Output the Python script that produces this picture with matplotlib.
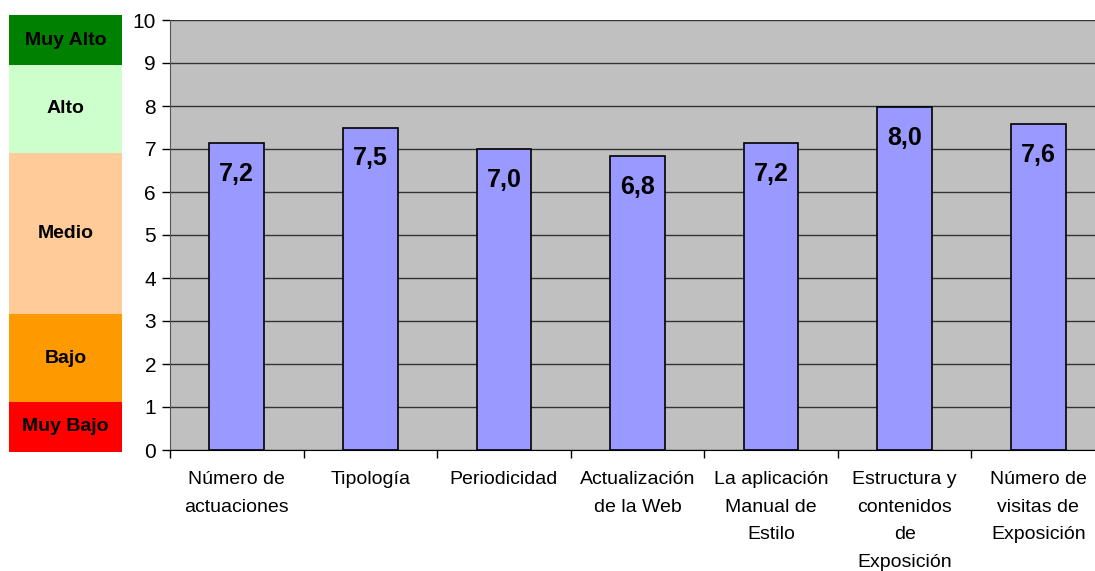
import matplotlib.pyplot as plt
import numpy as np

plt.rcParams['font.family'] = ['Liberation Sans', 'DejaVu Sans']

categories = [
    "Número de\nactuaciones",
    "Tipología",
    "Periodicidad",
    "Actualización\nde la Web",
    "La aplicación\nManual de\nEstilo",
    "Estructura y\ncontenidos\nde\nExposición",
    "Número de\nvisitas de\nExposición",
]
scores = [7.15, 7.5, 7.0, 6.83, 7.15, 7.98, 7.58]

band_labels = ["Muy Bajo", "Bajo", "Medio", "Alto", "Muy Alto"]
band_edges = [0, 1.15, 3.15, 6.85, 8.85, 10]
band_colors = ["#FF0000", "#FF9900", "#FFCC99", "#CCFFCC", "#008000"]

W, H = 1095, 571
fig = plt.figure(figsize=(W / 100, H / 100), dpi=100)

# level bands on the left
bx = fig.add_axes([9 / W, (H - 452) / H, 113 / W, 437 / H])
for lab, lo, hi, col in zip(band_labels, band_edges[:-1], band_edges[1:], band_colors):
    bx.axhspan(lo, hi, color=col, lw=0)
    bx.text(0.5, (lo + hi) / 2, lab, ha="center", va="center",
            fontsize=14, fontweight="bold", color="black")
bx.set_xlim(0, 1)
bx.set_ylim(0, 10)
bx.axis("off")

# main bar chart (plot area runs slightly past the right edge of the image)
ax = fig.add_axes([170 / W, (H - 450) / H, 935 / W, 430 / H])
ax.set_facecolor("#C0C0C0")
x = np.arange(len(categories))
ax.bar(x, scores, width=0.41, color="#9999FF", edgecolor="black", linewidth=1.2, zorder=3)
for xi, v in zip(x, scores):
    ax.text(xi, v - 0.72, f"{v:.1f}".replace(".", ","), ha="center", va="center",
            fontsize=18, fontweight="bold", zorder=4)

ax.set_xlim(-0.5, len(categories) - 0.5)
ax.set_ylim(0, 10)
ax.set_yticks(range(0, 11))
ax.yaxis.grid(True, color="#333333", linewidth=1)
ax.set_axisbelow(True)
ax.tick_params(axis="y", length=6, width=1, labelsize=15, pad=4)

ax.set_xticks(x)
ax.set_xticklabels(categories, fontsize=14, linespacing=1.83, va="top")
ax.set_xticks(np.arange(-0.5, len(categories)), minor=True)
ax.tick_params(axis="x", which="major", length=0, pad=15)
ax.tick_params(axis="x", which="minor", length=6, width=1)

for s in ["top", "right"]:
    ax.spines[s].set_visible(False)
ax.spines["left"].set_color("#555555")
ax.spines["bottom"].set_color("black")

fig.savefig("out.png", dpi=100)
